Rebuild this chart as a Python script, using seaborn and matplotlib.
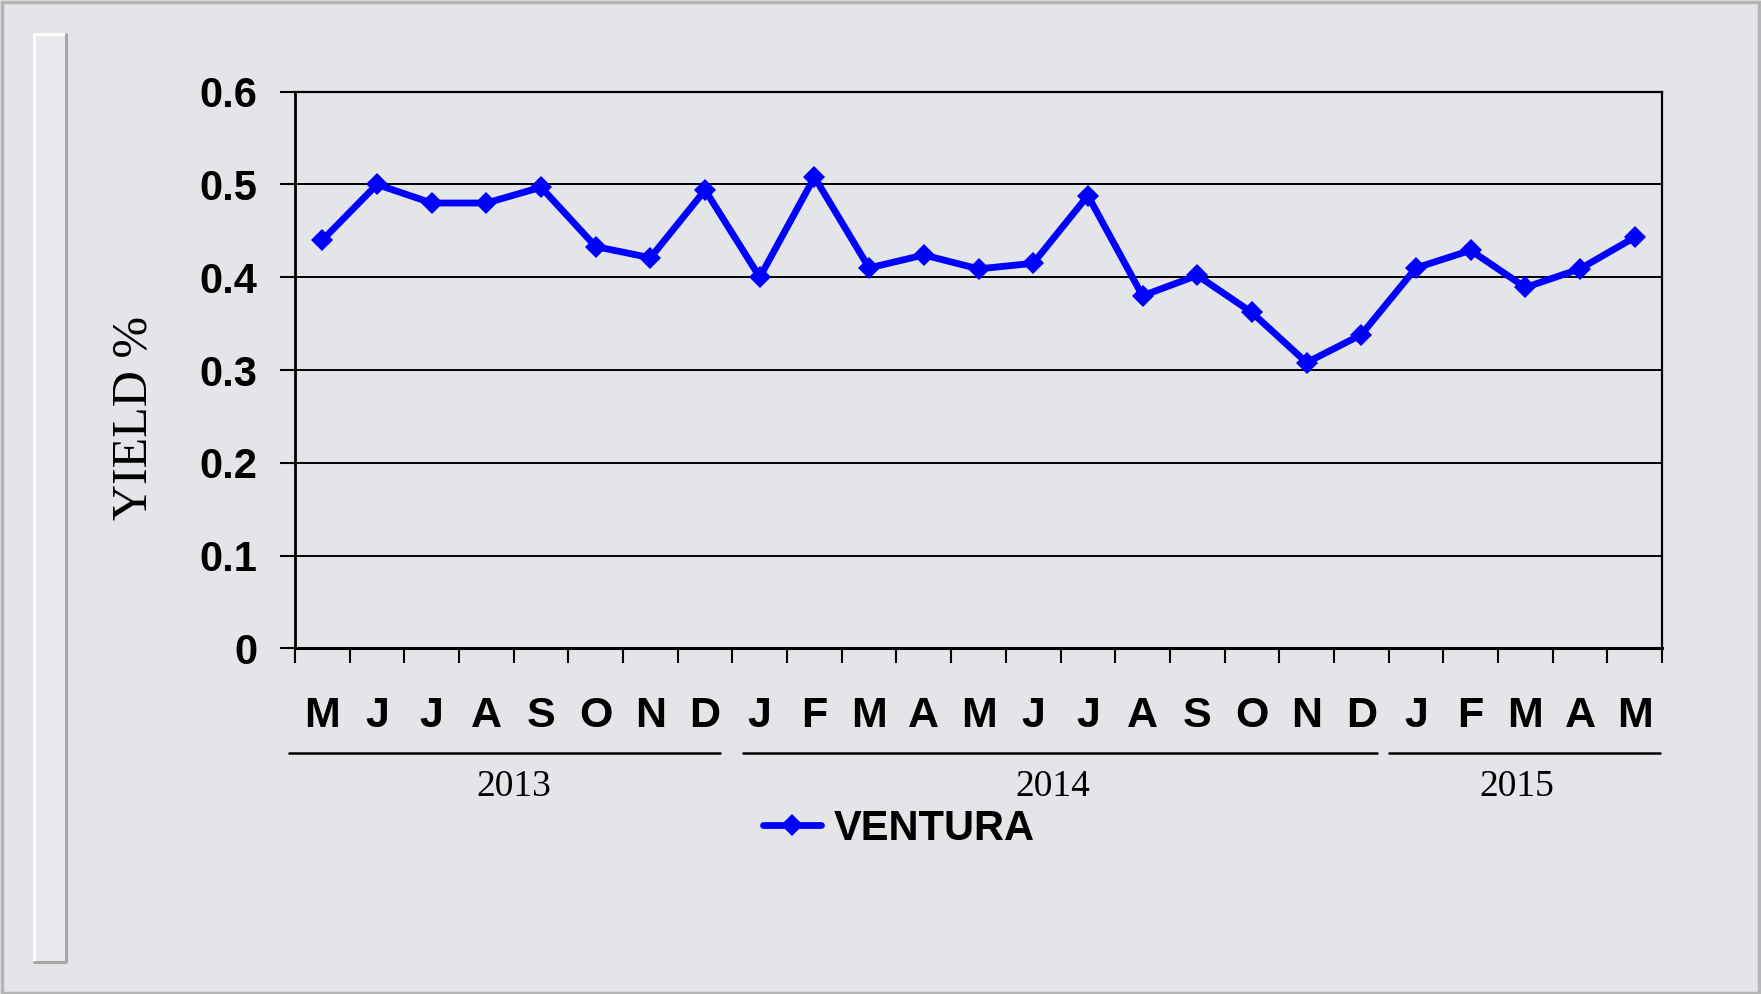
import matplotlib
matplotlib.use('Agg')
import matplotlib.pyplot as plt
import matplotlib.transforms as mtransforms
from matplotlib.lines import Line2D
from matplotlib.patches import Rectangle
import seaborn as sns
import pandas as pd
import numpy as np

# ---- data ----
months = ['M', 'J', 'J', 'A', 'S', 'O', 'N', 'D',
          'J', 'F', 'M', 'A', 'M', 'J', 'J', 'A', 'S', 'O', 'N', 'D',
          'J', 'F', 'M', 'A', 'M']
yield_values = [0.44, 0.50, 0.48, 0.48, 0.497, 0.433, 0.421, 0.494,
                0.40, 0.508, 0.41, 0.424, 0.409, 0.415, 0.488, 0.38, 0.402, 0.362, 0.308, 0.338,
                0.41, 0.429, 0.389, 0.409, 0.443]
years = ['2013', '2014', '2015']
year_counts = [8, 12, 5]
series_name = 'VENTURA'
y_ticks = [0, 0.1, 0.2, 0.3, 0.4, 0.5, 0.6]
y_label = 'YIELD %'

# ---- layout (styling only) ----
year_line_pads = [(-0.61, 0.27), (-0.31, 0.29), (-0.49, 0.47)]
year_label_shift = [0.0, -0.15, -0.15]

sns.set_theme(style='white')
plt.rcParams['font.family'] = ['Liberation Sans', 'DejaVu Sans']
plt.rcParams['text.color'] = 'black'

W, H = 1761, 994
fig = plt.figure(figsize=(W / 100, H / 100), dpi=100)
bg = '#e4e5e8'
fig.patch.set_facecolor(bg)

# decorative frame
fig.add_artist(Rectangle((0.001, 0.001), 0.998, 0.997, transform=fig.transFigure,
                         fill=False, edgecolor='#b4b4b4', linewidth=2.5))
px0, px1 = 34 / W, 66 / W
py0, py1 = 1 - 962 / H, 1 - 34 / H
fig.add_artist(Rectangle((px0, py0), px1 - px0, py1 - py0, transform=fig.transFigure,
                         facecolor='#e9eaed', edgecolor='none'))
fig.add_artist(Line2D([px0, px0, px1], [py0, py1, py1], transform=fig.transFigure,
                      color='white', linewidth=2.2))
fig.add_artist(Line2D([px0, px1, px1], [py0, py0, py1], transform=fig.transFigure,
                      color='#a8a8a8', linewidth=2.2))

left, right = 295 / W, 1662 / W
bottom, top = 1 - 648.3 / H, 1 - 91.7 / H
ax = fig.add_axes([left, bottom, right - left, top - bottom])
ax.set_facecolor('none')

df = pd.DataFrame({'idx': np.arange(len(months)), 'value': yield_values})
sns.lineplot(data=df, x='idx', y='value', ax=ax, color='#0000ff', linewidth=4.9,
             marker='D', markersize=11, markeredgewidth=0, label=series_name,
             zorder=5, clip_on=False)

ax.set_xlim(-0.5, len(months) - 0.5)
ax.set_ylim(0, 0.6)
ax.set_yticks(y_ticks)
ax.set_yticklabels([f'{v:g}' for v in y_ticks])
ax.yaxis.grid(True, color='black', linewidth=1.4)
ax.xaxis.grid(False)
ax.set_axisbelow(True)
for s in ax.spines.values():
    s.set_visible(True)
    s.set_color('black')
    s.set_linewidth(1.6)
ax.spines['left'].set_linewidth(2.0)
ax.spines['bottom'].set_linewidth(2.2)

ax.set_xticks(np.arange(-0.5, len(months), 1.0))
ax.set_xticklabels([])
ax.set_xticks(np.arange(len(months)), minor=True)
ax.set_xticklabels(months, minor=True)
ax.tick_params(axis='x', which='major', direction='out', length=11, width=1.5,
               color='black', bottom=True)
ax.tick_params(axis='x', which='minor', length=0, pad=34, labelsize=31,
               labelcolor='black')
for t in ax.get_xticklabels(minor=True):
    t.set_fontweight('bold')
ax.tick_params(axis='y', direction='out', length=11, width=1.5, color='black',
               pad=16, labelsize=30, labelcolor='black', left=True)
for t in ax.get_yticklabels():
    t.set_fontweight('bold')
ax.set_xlabel('')
ax.set_ylabel('')

fig.text(134 / W, 1 - 418 / H, y_label, rotation=90, ha='center', va='center',
         fontsize=36, family=['Liberation Serif', 'DejaVu Serif'], color='black')

# year grouping lines and labels
trans = mtransforms.blended_transform_factory(ax.transData, fig.transFigure)
start = 0
line_y = 1 - 752.7 / H
label_y = 1 - 786.5 / H
for yr, n, (p0, p1), sh in zip(years, year_counts, year_line_pads, year_label_shift):
    first, last = start, start + n - 1
    ax.add_line(Line2D([first + p0, last + p1], [line_y, line_y], transform=trans,
                       color='black', linewidth=1.8, clip_on=False))
    ax.text((first + last) / 2 + sh, label_y, yr, transform=trans, ha='center', va='center',
            fontsize=27, family=['Liberation Serif', 'DejaVu Serif'], color='black')
    start += n

leg = ax.legend(loc='center left', bbox_to_anchor=(742 / W, 1 - 829 / H),
                bbox_transform=fig.transFigure, frameon=False, borderpad=0,
                handlelength=1.4, handletextpad=0.3,
                prop={'family': 'Liberation Sans', 'weight': 'bold', 'size': 30})
for t in leg.get_texts():
    t.set_color('black')

fig.savefig('out.png', dpi=100, facecolor=fig.get_facecolor())
